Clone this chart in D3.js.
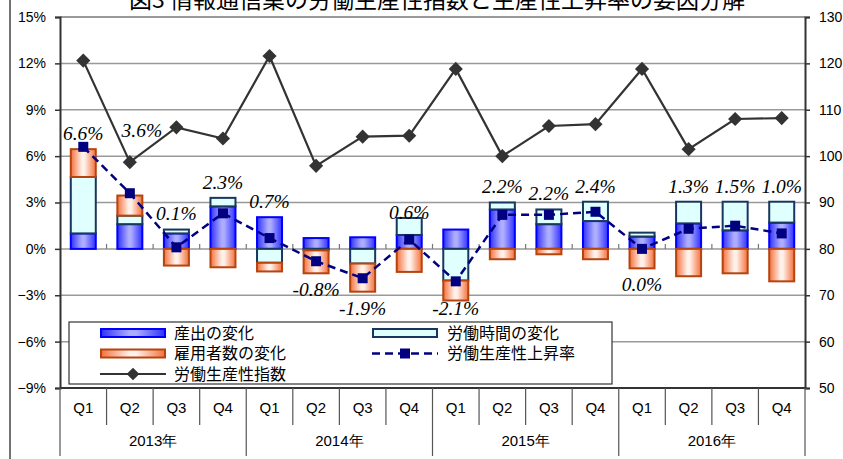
<!DOCTYPE html>
<html>
<head>
<meta charset="utf-8">
<script src="https://cdn.jsdelivr.net/npm/d3@7"></script>
<style>
  body { margin: 0; background: #fff; }
  svg { display: block; }
</style>
</head>
<body>
<div id="chart"></div>
<script>
// data
var years = ["2013年", "2014年", "2015年", "2016年"];
var quarters = ["Q1", "Q2", "Q3", "Q4", "Q1", "Q2", "Q3", "Q4", "Q1", "Q2", "Q3", "Q4", "Q1", "Q2", "Q3", "Q4"];
var outputChg = [1.0, 1.6, 1.0, 2.75, 2.05, 0.7, 0.75, 0.9, 1.25, 2.55, 1.6, 1.8, 0.8, 1.65, 1.2, 1.7];
var hoursChg = [3.65, 0.55, 0.25, 0.55, -0.9, -0.1, -0.95, 1.1, -2.05, 0.45, 0.95, 1.25, 0.25, 1.4, 1.85, 1.35];
var employChg = [1.8, 1.3, -1.08, -1.19, -0.56, -1.48, -1.82, -1.49, -1.29, -0.67, -0.35, -0.67, -1.26, -1.77, -1.58, -2.1];
var prodRate = [6.6, 3.6, 0.1, 2.3, 0.7, -0.8, -1.9, 0.6, -2.1, 2.2, 2.2, 2.4, 0.0, 1.3, 1.5, 1.0];
var prodIndex = [120.6, 98.7, 106.2, 103.8, 121.6, 97.9, 104.2, 104.4, 118.8, 100.0, 106.5, 106.9, 118.8, 101.5, 108.0, 108.2];
var pctTicks = [-9, -6, -3, 0, 3, 6, 9, 12, 15];
var idxTicks = [50, 60, 70, 80, 90, 100, 110, 120, 130];

var W = 843, H = 459;
var plotL = 60, plotR = 805, plotT = 17, plotB = 388;
var narrow = "'Liberation Sans Narrow', 'Arial Narrow', 'Liberation Sans', Arial, sans-serif";
var jp = "'Noto Sans CJK JP', 'Noto Sans', sans-serif";

var svg = d3.select("#chart").append("svg")
	.attr("width", W)
	.attr("height", H);

var defs = svg.append("defs");
function grad(id, edge, mid) {
	var g = defs.append("linearGradient").attr("id", id)
		.attr("x1", 0).attr("x2", 1).attr("y1", 0).attr("y2", 0);
	g.append("stop").attr("offset", "0%").attr("stop-color", edge);
	g.append("stop").attr("offset", "45%").attr("stop-color", mid);
	g.append("stop").attr("offset", "55%").attr("stop-color", mid);
	g.append("stop").attr("offset", "100%").attr("stop-color", edge);
}
grad("gBlue", "#3030ff", "#adadff");
grad("gOrange", "#f4703c", "#fff1ea");

var idx = d3.range(quarters.length);
var x = d3.scaleBand().domain(idx).range([plotL, plotR]).paddingInner(0.42).paddingOuter(0.21);
var xb = d3.scaleLinear().domain([0, quarters.length]).range([plotL, plotR]);
var yL = d3.scaleLinear().domain([-9, 15]).range([plotB, plotT]);
var yR = d3.scaleLinear().domain([50, 130]).range([plotB, plotT]);
var cx = function(i) { return x(i) + x.bandwidth() / 2; };

// title (cut at the top like in the source)
svg.append("text")
	.attr("x", 437).attr("y", 8)
	.attr("text-anchor", "middle")
	.style("font-family", jp).style("font-size", "23px")
	.text("図3 情報通信業の労働生産性指数と生産性上昇率の要因分解");

// outer frame line
svg.append("line").attr("x1", 10).attr("x2", 10).attr("y1", 0).attr("y2", H)
	.style("stroke", "#444").style("stroke-width", 1.5);

// gridlines
svg.append("g").selectAll("line").data(pctTicks.filter(function(d) { return d > -9; }))
	.enter().append("line")
	.attr("x1", plotL).attr("x2", plotR)
	.attr("y1", function(d) { return yL(d); }).attr("y2", function(d) { return yL(d); })
	.style("stroke", function(d) { return d == 15 ? "#777" : "#999"; })
	.style("stroke-width", 1.5);

// small ticks on the zero line
svg.append("g").selectAll("line").data(d3.range(1, quarters.length))
	.enter().append("line")
	.attr("x1", function(d) { return xb(d); }).attr("x2", function(d) { return xb(d); })
	.attr("y1", yL(0) - 5).attr("y2", yL(0))
	.style("stroke", "#777").style("stroke-width", 1.2);

// axes
var axL = svg.append("g").attr("transform", "translate(" + plotL + ",0)")
	.call(d3.axisLeft(yL).tickValues(pctTicks).tickSize(5).tickPadding(9)
		.tickFormat(function(d) { return (d < 0 ? "−" : "") + Math.abs(d) + "%"; }));
var axR = svg.append("g").attr("transform", "translate(" + plotR + ",0)")
	.call(d3.axisRight(yR).tickValues(idxTicks).tickSize(5).tickPadding(9));
[axL, axR].forEach(function(a) {
	a.select(".domain").style("stroke", "#333").style("stroke-width", 2);
	a.selectAll(".tick line").style("stroke", "#333").style("stroke-width", 1.5);
	a.selectAll("text").style("font-family", narrow).style("font-size", "14px").style("fill", "#000");
});

// bottom category axis
svg.append("line").attr("x1", plotL).attr("x2", plotR).attr("y1", plotB).attr("y2", plotB)
	.style("stroke", "#333").style("stroke-width", 2);
svg.append("g").selectAll("line").data(d3.range(0, quarters.length + 1))
	.enter().append("line")
	.attr("x1", function(d) { return xb(d); }).attr("x2", function(d) { return xb(d); })
	.attr("y1", plotB)
	.attr("y2", function(d) { return d % 4 == 0 ? 456 : 425; })
	.style("stroke", "#555").style("stroke-width", 1.2);
svg.append("g").selectAll("text").data(quarters)
	.enter().append("text")
	.attr("x", function(d, i) { return cx(i); })
	.attr("y", 413)
	.attr("text-anchor", "middle")
	.style("font-family", narrow).style("font-size", "15px")
	.text(function(d) { return d; });
svg.append("g").selectAll("text").data(years)
	.enter().append("text")
	.attr("x", function(d, i) { return (xb(i * 4) + xb(i * 4 + 4)) / 2; })
	.attr("y", 446)
	.attr("text-anchor", "middle")
	.style("font-family", narrow).style("font-size", "15px")
	.text(function(d) { return d; });

// stacked bars: positives go up, negatives go down, in series order
var series = [
	{ key: "output", vals: outputChg, fill: "url(#gBlue)", stroke: "#0000ff" },
	{ key: "hours", vals: hoursChg, fill: "#e0ffff", stroke: "#17375e" },
	{ key: "employ", vals: employChg, fill: "url(#gOrange)", stroke: "#b5440e" }
];
var segs = [];
var posTop = idx.map(function() { return 0; });
var negBot = idx.map(function() { return 0; });
series.forEach(function(s) {
	s.vals.forEach(function(v, i) {
		var y0, y1;
		if (v >= 0) { y0 = posTop[i]; y1 = y0 + v; posTop[i] = y1; }
		else { y0 = negBot[i]; y1 = y0 + v; negBot[i] = y1; }
		segs.push({ i: i, y0: y0, y1: y1, s: s });
	});
});
svg.append("g").selectAll("rect").data(segs)
	.enter().append("rect")
	.attr("x", function(d) { return x(d.i) + 1; })
	.attr("width", x.bandwidth() - 2)
	.attr("y", function(d) { return yL(Math.max(d.y0, d.y1)); })
	.attr("height", function(d) { return Math.abs(yL(d.y0) - yL(d.y1)); })
	.style("fill", function(d) { return d.s.fill; })
	.style("stroke", function(d) { return d.s.stroke; })
	.style("stroke-width", 2);

// productivity index (right axis)
svg.append("path").datum(prodIndex)
	.attr("d", d3.line().x(function(d, i) { return cx(i); }).y(function(d) { return yR(d); }))
	.style("fill", "none").style("stroke", "#333").style("stroke-width", 2.2);
svg.append("g").selectAll("path").data(prodIndex)
	.enter().append("path")
	.attr("transform", function(d, i) { return "translate(" + cx(i) + "," + yR(d) + ") rotate(45)"; })
	.attr("d", "M-5,-5H5V5H-5Z")
	.style("fill", "#333");

// productivity growth (left axis)
svg.append("path").datum(prodRate)
	.attr("d", d3.line().x(function(d, i) { return cx(i); }).y(function(d) { return yL(d); }))
	.style("fill", "none").style("stroke", "#000080").style("stroke-width", 2.5)
	.style("stroke-dasharray", "8,5");
svg.append("g").selectAll("rect").data(prodRate)
	.enter().append("rect")
	.attr("x", function(d, i) { return cx(i) - 5; })
	.attr("y", function(d) { return yL(d) - 5; })
	.attr("width", 10).attr("height", 10)
	.style("fill", "#000080");

// value labels (a few were moved by hand in the source)
var labelNudge = { 1: [12, -49], 7: [0, 10], 8: [0, -8] };
svg.append("g").selectAll("text").data(prodRate)
	.enter().append("text")
	.attr("x", function(d, i) { return cx(i) + (labelNudge[i] ? labelNudge[i][0] : 0); })
	.attr("y", function(d, i) {
		var y = d > 0 ? yL(posTop[i]) - 16 : yL(negBot[i]) + 16;
		return y + (labelNudge[i] ? labelNudge[i][1] : 0);
	})
	.attr("dy", "0.35em")
	.attr("text-anchor", "middle")
	.style("font-family", "'Liberation Serif', 'Times New Roman', serif")
	.style("font-style", "italic").style("font-size", "19.5px")
	.text(function(d) { return d.toFixed(1) + "%"; });

// legend
var lg = svg.append("g");
lg.append("rect").attr("x", 69).attr("y", 322).attr("width", 543).attr("height", 62)
	.style("fill", "#fff").style("stroke", "#333").style("stroke-width", 1.2);
var items = [
	{ name: "産出の変化", type: "bar", s: series[0], col: 0, row: 0 },
	{ name: "労働時間の変化", type: "bar", s: series[1], col: 1, row: 0 },
	{ name: "雇用者数の変化", type: "bar", s: series[2], col: 0, row: 1 },
	{ name: "労働生産性上昇率", type: "rate", col: 1, row: 1 },
	{ name: "労働生産性指数", type: "index", col: 0, row: 2 }
];
var li = lg.selectAll("g.item").data(items).enter().append("g")
	.attr("transform", function(d) { return "translate(" + (d.col ? 372 : 100) + "," + (333 + d.row * 20.5) + ")"; });
li.each(function(d) {
	var g = d3.select(this);
	if (d.type == "bar") {
		g.append("rect").attr("x", 1).attr("y", -4).attr("width", 64).attr("height", 8)
			.style("fill", d.s.fill).style("stroke", d.s.stroke).style("stroke-width", 2);
	} else if (d.type == "rate") {
		g.append("line").attr("x1", 0).attr("x2", 66).attr("y1", 0).attr("y2", 0)
			.style("stroke", "#000080").style("stroke-width", 2.5).style("stroke-dasharray", "8,5");
		g.append("rect").attr("x", 28).attr("y", -5).attr("width", 10).attr("height", 10).style("fill", "#000080");
	} else {
		g.append("line").attr("x1", 0).attr("x2", 66).attr("y1", 0).attr("y2", 0)
			.style("stroke", "#333").style("stroke-width", 2.2);
		g.append("path").attr("transform", "translate(33,0) rotate(45)")
			.attr("d", "M-4.5,-4.5H4.5V4.5H-4.5Z").style("fill", "#333");
	}
	g.append("text").attr("x", d.col ? 75 : 74).attr("y", 0).attr("dy", "0.36em")
		.style("font-family", jp).style("font-size", "16px")
		.text(d.name);
});
</script>
</body>
</html>
